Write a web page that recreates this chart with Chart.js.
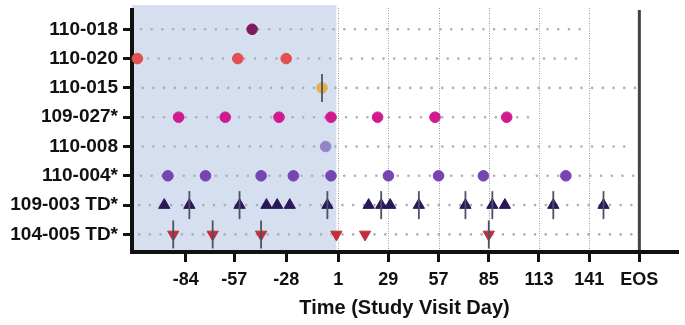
<!DOCTYPE html>
<html>
<head>
<meta charset="UTF-8">
<script src="https://cdn.jsdelivr.net/npm/chart.js@4.4.1/dist/chart.umd.min.js"></script>
<style>
  html, body { margin: 0; padding: 0; background: #fff; }
  #wrap { width: 685px; height: 325px; }
</style>
</head>
<body>
<div id="wrap"><canvas id="timeline" width="685" height="325"></canvas></div>

<script>
// subjects, top to bottom
var subjects = ['110-018', '110-020', '110-015', '109-027*', '110-008', '110-004*', '109-003 TD*', '104-005 TD*'];

// visit days
var days_110_018 = [-47];
var days_110_020 = [-111, -55, -28];
var days_110_015 = [-8];
var days_109_027 = [-88, -62, -32, -3, 23, 55, 95];
var days_110_008 = [-6];
var days_110_004 = [-94, -73, -42, -24, -3, 29, 57, 82, 128];
var days_109_003 = [-96, -82, -54, -39, -33, -26, -5, 18, 25, 30, 46, 72, 87, 94, 121, 149];
var days_104_005 = [-91, -69, -42, 0, 16, 85];

// vertical bar events
var events_110_015 = [-8];
var events_109_003 = [-82, -54, -5, 25, 46, 72, 87, 121, 149];
var events_104_005 = [-91, -69, -42, 85];

// dotted follow-up line per subject
var followStart = [-109, -111, -108, -108, -108, -109, -110, -110];
var followEnd   = [137, 139, 167, 107, 162, 167, 166, 166];

var xTicks = [-84, -57, -28, 1, 29, 57, 85, 113, 141, 169];
var xTickLabels = ['-84', '-57', '-28', '1', '29', '57', '85', '113', '141', 'EOS'];
var eosDay = 169;
var screeningEnd = 0;

function pts(days, row){
	return days.map(function(d){ return {x: d, y: row}; });
}

var datasets = [];

// follow-up dotted lines
for (var i = 0; i < subjects.length; i++) {
	datasets.push({
		type: 'line',
		data: [{x: followStart[i], y: i}, {x: followEnd[i], y: i}],
		borderColor: '#a9aebb',
		borderWidth: 2.6,
		borderDash: [0, 10.7],
		borderCapStyle: 'round',
		pointRadius: 0,
		order: 3,
		clip: false
	});
}

function dots(days, row, color, style, r, rot){
	return {
		type: 'scatter',
		data: pts(days, row),
		pointStyle: style,
		pointRadius: r,
		rotation: rot || 0,
		backgroundColor: color,
		borderColor: color,
		borderWidth: 1,
		order: 2,
		clip: false
	};
}

datasets.push(dots(days_110_018, 0, '#7d1a5e', 'circle', 5.3));
datasets.push(dots(days_110_020, 1, '#e2504f', 'circle', 5.3));
datasets.push(dots(days_110_015, 2, '#e3b04a', 'circle', 5.3));
datasets.push(dots(days_109_027, 3, '#d01a8e', 'circle', 5.3));
datasets.push(dots(days_110_008, 4, '#9484c8', 'circle', 5.3));
datasets.push(dots(days_110_004, 5, '#7545b3', 'circle', 5.3));
datasets.push(dots(days_109_003, 6, '#2a1858', 'triangle', 6.5));
datasets.push(dots(days_104_005, 7, '#c0303a', 'triangle', 6.5, 180));

// event bars
var evs = [[events_110_015, 2], [events_109_003, 6], [events_104_005, 7]];
evs.forEach(function(e){
	datasets.push({
		type: 'scatter',
		data: pts(e[0], e[1]),
		pointStyle: 'line',
		pointRadius: 14,
		rotation: 90,
		borderColor: '#4b5263',
		borderWidth: 1.8,
		order: 1,
		clip: false
	});
});

// screening shade + vertical dotted lines + EOS line
var backdrop = {
	id: 'backdrop',
	beforeDraw: function(chart){
		var c = chart.ctx, a = chart.chartArea, x = chart.scales.x;
		c.save();
		var x1 = x.getPixelForValue(screeningEnd);
		c.fillStyle = '#d6dff0';
		c.fillRect(a.left, a.top - 5, x1 - a.left, a.bottom - a.top + 5);

		c.strokeStyle = '#9a9a9a';
		c.lineWidth = 1;
		c.setLineDash([1, 1.5]);
		xTicks.forEach(function(v){
			if (v < 1 || v >= eosDay) return;
			var px = Math.round(x.getPixelForValue(v)) + 0.5;
			c.beginPath();
			c.moveTo(px, a.top - 2);
			c.lineTo(px, a.bottom);
			c.stroke();
		});
		c.setLineDash([]);
		c.strokeStyle = '#444';
		c.lineWidth = 3;
		var pe = x.getPixelForValue(eosDay);
		c.beginPath();
		c.moveTo(pe, a.top);
		c.lineTo(pe, a.bottom);
		c.stroke();
		c.restore();
	}
};

new Chart(document.getElementById('timeline').getContext('2d'), {
	type: 'scatter',
	data: {datasets: datasets},
	options: {
		responsive: false,
		animation: false,
		layout: {autoPadding: false, padding: {left: 0, right: 8, top: 10, bottom: 0}},
		plugins: {legend: {display: false}, tooltip: {enabled: false}},
		scales: {
			x: {
				type: 'linear',
				min: -114,
				max: 190,
				afterBuildTicks: function(s){ s.ticks = xTicks.map(function(v){ return {value: v}; }); },
				afterFit: function(s){ s.height = 73; s.paddingLeft = 0; s.paddingRight = 0; },
				ticks: {
					autoSkip: false,
					maxRotation: 0,
					padding: 7,
					color: '#111',
					font: {family: 'Liberation Sans', size: 18, weight: 'bold'},
					callback: function(v, i){ return xTickLabels[i]; }
				},
				grid: {drawOnChartArea: false, tickLength: 10, lineWidth: 3, color: '#111'},
				border: {display: true, width: 4, color: '#111'},
				title: {
					display: true,
					text: 'Time (Study Visit Day)',
					color: '#111',
					font: {family: 'Liberation Sans', size: 20, weight: 'bold'},
					padding: {top: 0, bottom: 5}
				}
			},
			y: {
				type: 'linear',
				reverse: true,
				min: -0.658,
				max: 7.6,
				afterBuildTicks: function(s){ s.ticks = subjects.map(function(n, i){ return {value: i}; }); },
				afterFit: function(s){ s.width = 132; s.paddingTop = 0; s.paddingBottom = 0; },
				ticks: {
					padding: 5,
					color: '#111',
					font: {family: 'Liberation Sans', size: 19, weight: 'bold'},
					callback: function(v){ return subjects[v]; }
				},
				grid: {drawOnChartArea: false, tickLength: 9, lineWidth: 3, color: '#111'},
				border: {display: true, width: 4, color: '#111'}
			}
		}
	},
	plugins: [backdrop]
});
</script>
</body>
</html>
